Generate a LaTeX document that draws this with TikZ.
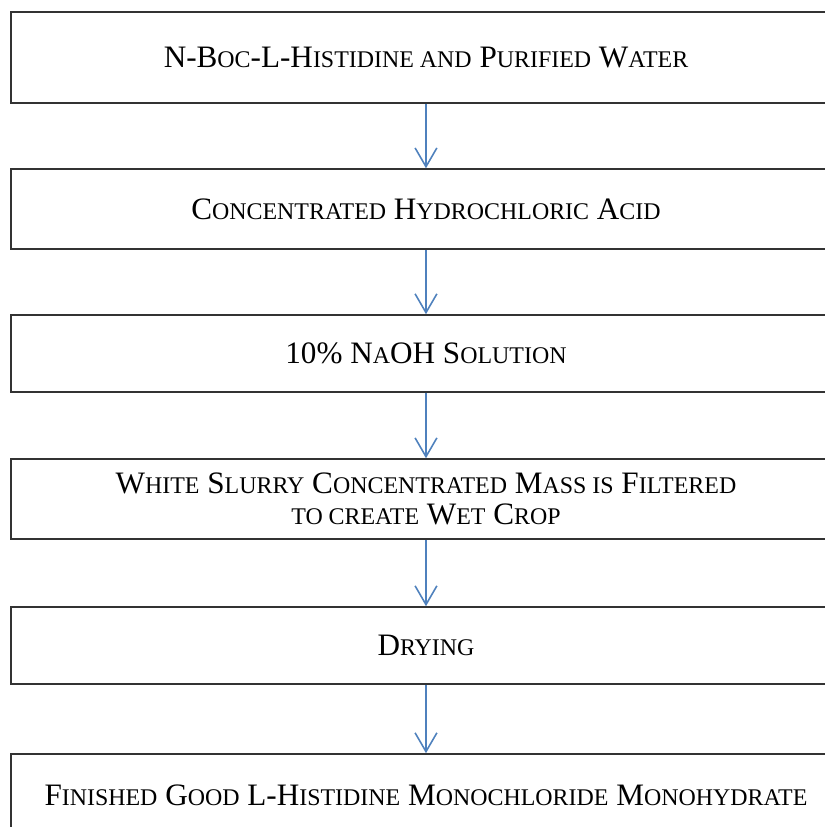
\documentclass[tikz,border=0pt]{standalone}
\usepackage{fontspec}
\setmainfont{Liberation Serif}
\usetikzlibrary{arrows.meta}

% word-style small capitals
\newcommand{\sm}[1]{{\fontsize{9.05}{11}\selectfont #1}}

\begin{document}
\begin{tikzpicture}[
  stage/.style={
    draw=black!80,
    line width=0.6pt,
    fill=white,
    minimum width=11.04cm,
    align=center,
    font=\fontsize{11.8}{11.9}\selectfont
  },
  flow/.style={-{Straight Barb[length=2.5mm,width=2.9mm]}, line width=0.6pt, draw=flowblue}
]
  \definecolor{flowblue}{RGB}{79,129,189}
  \useasboundingbox (0,0) rectangle (10.97,11.0);

  \node[stage, minimum height=1.21cm] (boc) at (5.666,10.234)
    {N-B\sm{OC}-L-H\sm{ISTIDINE AND} P\sm{URIFIED} W\sm{ATER}};
  \node[stage, minimum height=1.064cm] (hcl) at (5.666,8.219)
    {C\sm{ONCENTRATED} H\sm{YDROCHLORIC} A\sm{CID}};
  \node[stage, minimum height=1.024cm] (naoh) at (5.666,6.298)
    {10\% N\sm{A}OH S\sm{OLUTION}};
  \node[stage, minimum height=1.064cm] (slurry) at (5.666,4.362)
    {W\sm{HITE} S\sm{LURRY} C\sm{ONCENTRATED} M\sm{ASS IS} F\sm{ILTERED}\\
     \sm{TO CREATE} W\sm{ET} C\sm{ROP}};
  \node[stage, minimum height=1.024cm] (drying) at (5.666,2.414)
    {D\sm{RYING}};
  \node[stage, minimum height=1.09cm] (finished) at (5.666,0.426)
    {F\sm{INISHED} G\sm{OOD} L-H\sm{ISTIDINE} M\sm{ONOCHLORIDE} M\sm{ONOHYDRATE}};

  \draw[flow] (boc) -- (hcl);
  \draw[flow] (hcl) -- (naoh);
  \draw[flow] (naoh) -- (slurry);
  \draw[flow] (slurry) -- (drying);
  \draw[flow] (drying) -- (finished);
\end{tikzpicture}
\end{document}
